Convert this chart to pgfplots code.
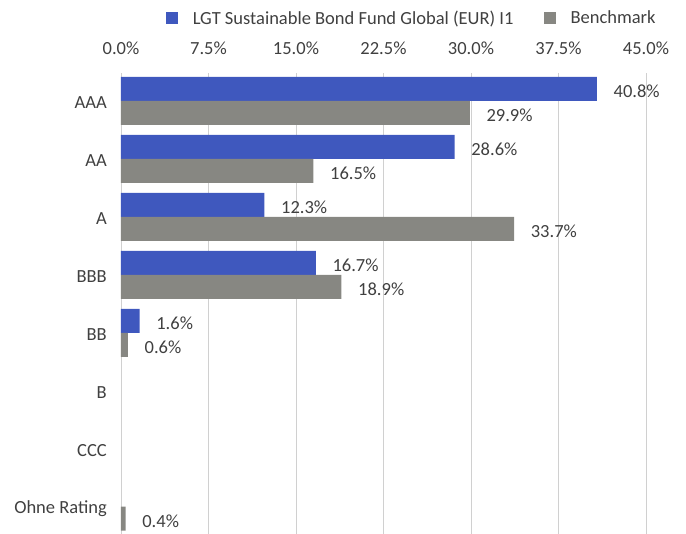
\documentclass[border=0pt]{standalone}
\usepackage{pgfplots}
\pgfplotsset{compat=1.18}
\usepackage{fontspec}
\setmainfont{Carlito}
\definecolor{fundblue}{HTML}{3F58BE}
\definecolor{benchgray}{HTML}{878782}
\definecolor{gridgray}{HTML}{D0D0D0}
\definecolor{txt}{HTML}{404040}
\begin{document}
\begin{tikzpicture}[x=1pt,y=1pt]
\useasboundingbox (0,0) rectangle (686,534);
\begin{axis}[
  at={(121pt,0pt)}, anchor=south west,
  scale only axis, width=525pt, height=461pt,
  xmin=0, xmax=45, ymin=-0.47, ymax=7.48,
  xbar, bar width=24pt,
  axis x line*=top, axis y line*=left,
  x axis line style={draw=none},
  y axis line style={draw=gridgray, line width=0.8pt},
  xtick={0,7.5,15,22.5,30,37.5,45},
  xticklabels={0.0\%,7.5\%,15.0\%,22.5\%,30.0\%,37.5\%,45.0\%},
  ytick={0,1,2,3,4,5,6,7},
  yticklabels={Ohne Rating,CCC,B,BB,BBB,A,AA,AAA},
  major tick length=0pt,
  xmajorgrids, major grid style={draw=gridgray, line width=0.8pt},
  font=\fontsize{18.5}{22}\selectfont,
  every tick label/.append style={text=txt},
  xticklabel style={anchor=base, yshift=18pt, inner sep=0pt},
  yticklabel style={anchor=east, inner sep=0pt, xshift=-14pt, yshift=-2pt},
  nodes near coords={\pgfmathprintnumber[fixed,fixed zerofill,precision=1,assume math mode=true]{\pgfplotspointmeta}\%},
  nodes near coords style={anchor=west, text=txt, inner sep=0pt, xshift=16.5pt, yshift=-2.5pt},
  legend style={draw=none, fill=none, at={(rel axis cs:0.085,1.119)}, anchor=west,
    legend columns=2, font=\fontsize{18.5}{22}\selectfont, text=txt,
    /tikz/every odd column/.append style={column sep=13pt},
    /tikz/every even column/.append style={column sep=28pt},
    legend cell align=left, inner sep=0pt},
  legend image code/.code={\fill[#1] (0pt,-6pt) rectangle (12pt,6pt);},
  clip=false,
]
\addplot[fill=fundblue, draw=none, bar shift=12pt] coordinates {
  (40.8,7) (28.6,6) (12.3,5) (16.7,4) (1.6,3)
};
\addlegendentry{LGT Sustainable Bond Fund Global (EUR) I1}
\addplot[fill=benchgray, draw=none, bar shift=-12pt] coordinates {
  (29.9,7) (16.5,6) (33.7,5) (18.9,4) (0.6,3) (0.4,0)
};
\addlegendentry{Benchmark}
\end{axis}
\end{tikzpicture}
\end{document}
